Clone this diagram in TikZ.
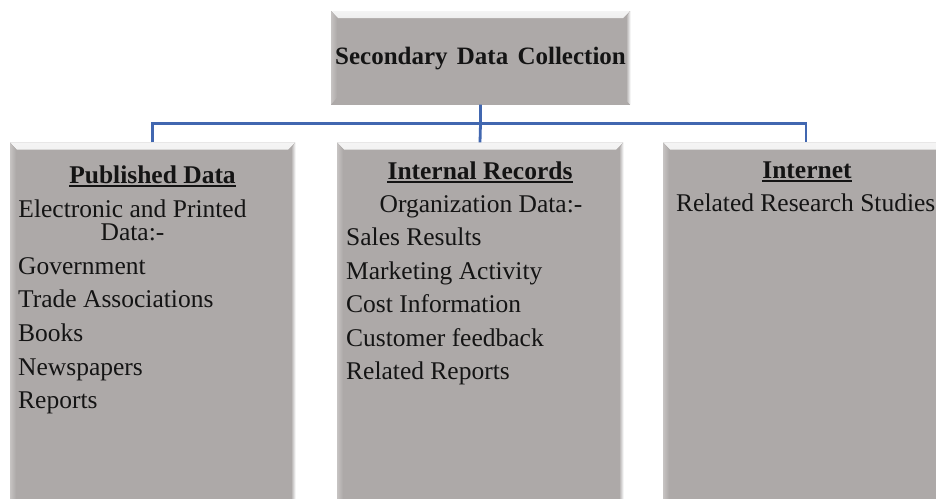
\documentclass[tikz,border=0pt]{standalone}
\usepackage{fontspec}
\setmainfont{Liberation Serif}
\definecolor{boxgray}{HTML}{ADA9A8}
\definecolor{bevellight}{HTML}{F4F4F4}
\definecolor{bevelside}{HTML}{C6C3C2}
\definecolor{linkblue}{HTML}{4167B0}
\definecolor{ink}{HTML}{141414}
\begin{document}
\begin{tikzpicture}[x=1pt,y=-1pt,
  panel/.style={draw=none, fill=boxgray, inner sep=0pt,
    path picture={
      % top bevel
      \fill[top color=bevellight, bottom color=boxgray]
        (path picture bounding box.north west) -- (path picture bounding box.north east)
        -- ([xshift=-7pt,yshift=-7pt]path picture bounding box.north east)
        -- ([xshift=7pt,yshift=-7pt]path picture bounding box.north west) -- cycle;
      % left bevel
      \fill[left color=bevelside, right color=boxgray]
        (path picture bounding box.north west)
        -- ([xshift=6pt,yshift=-7pt]path picture bounding box.north west)
        -- ([xshift=6pt,yshift=7pt]path picture bounding box.south west)
        -- (path picture bounding box.south west) -- cycle;
      % right bevel
      \fill[left color=boxgray, right color=bevellight]
        (path picture bounding box.north east)
        -- ([xshift=-4pt,yshift=-7pt]path picture bounding box.north east)
        -- ([xshift=-4pt,yshift=4pt]path picture bounding box.south east)
        -- (path picture bounding box.south east) -- cycle;
    }},
  conn/.style={draw=linkblue, line width=2.2pt},
  hd/.style={font=\fontsize{25.5}{30}\selectfont\bfseries, text=ink, inner sep=0pt, anchor=base},
  item/.style={font=\fontsize{25.5}{30}\selectfont, text=ink, inner sep=0pt, anchor=base west},
  itemc/.style={font=\fontsize{25.5}{30}\selectfont, text=ink, inner sep=0pt, anchor=base},
  ul/.style={draw=ink, line width=1.3pt}
]
\clip (0,0) rectangle (936,498);
\fill[white] (0,0) rectangle (936,498);

% boxes
\node[panel, minimum width=299pt, minimum height=93.5pt] (title) at (480.5,57.75) {};
\node[panel, minimum width=285pt, minimum height=377.5pt] (pub) at (152.5,331.25) {};
\node[panel, minimum width=286pt, minimum height=377.5pt] (rec) at (480,331.25) {};
\node[panel, minimum width=286pt, minimum height=377.5pt] (net) at (806,331.25) {};

% connectors
\coordinate (bus) at (480,123.5);
\draw[conn, line width=2.8pt] (title.south) -- (title.south |- bus) -- (rec.north);
\draw[conn] (pub.north) -- (pub.north |- bus) -- (net.north |- bus) -- (net.north);

% title
\node[hd, font=\fontsize{25}{30}\selectfont\bfseries] (titletext) at (480.5,64) {Secondary\hspace{3pt} Data\hspace{3pt} Collection};

% published data
\node[hd] (pubhd) at (152.5,183) {Published Data};
\draw[ul] ([yshift=-3pt]pubhd.base west) -- ([yshift=-3pt]pubhd.base east);
\node[itemc] (pub1a) at (132.5,217) {Electronic and Printed};
\node[itemc] (pub1b) at (132.5,240) {Data:-};
\node[item] (pub2) at (18,274) {Government};
\node[item] (pub3) at (18,307.5) {Trade Associations};
\node[item] (pub4) at (18,341) {Books};
\node[item] (pub5) at (18,375) {Newspapers};
\node[item] (pub6) at (18,408.5) {Reports};

% internal records
\node[hd] (rechd) at (480,179) {Internal Records};
\draw[ul] ([yshift=-3pt]rechd.base west) -- ([yshift=-3pt]rechd.base east);
\node[itemc] (rec1) at (481,212) {Organization Data:-};
\node[item] (rec2) at (346,245.5) {Sales Results};
\node[item] (rec3) at (346,279) {Marketing Activity};
\node[item] (rec4) at (346,312.5) {Cost Information};
\node[item] (rec5) at (346,346) {Customer feedback};
\node[item] (rec6) at (346,379.5) {Related Reports};

% internet
\node[hd] (nethd) at (807,178) {Internet};
\draw[ul] ([yshift=-3pt]nethd.base west) -- ([yshift=-3pt]nethd.base east);
\node[item] (net1) at (676,211) {Related Research Studies};
\end{tikzpicture}
\end{document}
